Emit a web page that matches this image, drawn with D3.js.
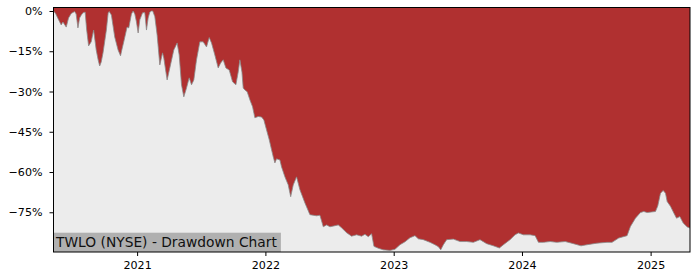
<!DOCTYPE html>
<html lang="en">
<head>
<meta charset="UTF-8">
<script src="https://cdn.jsdelivr.net/npm/d3@7"></script>
<title>TWLO Drawdown</title>
<style>
    body { margin: 0; background: #fff; }
    text { font-family: "DejaVu Sans", sans-serif; }
</style>
</head>
<body>
<script>
    // ---- data (decimal years, drawdown in %) ----
    const years = [
        2020.350, 2020.366, 2020.384, 2020.410, 2020.423, 2020.449, 2020.467, 2020.488, 2020.514, 2020.526,
        2020.540, 2020.553, 2020.566, 2020.579, 2020.596, 2020.608, 2020.623, 2020.643, 2020.662, 2020.682,
        2020.697, 2020.709, 2020.721, 2020.735, 2020.761, 2020.775, 2020.783, 2020.800, 2020.826, 2020.852,
        2020.871, 2020.881, 2020.896, 2020.922, 2020.935, 2020.956, 2020.969, 2020.982, 2020.995, 2021.008,
        2021.021, 2021.042, 2021.060, 2021.073, 2021.086, 2021.099, 2021.112, 2021.122, 2021.138, 2021.156,
        2021.177, 2021.198, 2021.208, 2021.234, 2021.255, 2021.286, 2021.312, 2021.328, 2021.346, 2021.364,
        2021.385, 2021.406, 2021.424, 2021.442, 2021.463, 2021.489, 2021.515, 2021.541, 2021.562, 2021.580,
        2021.606, 2021.632, 2021.651, 2021.671, 2021.692, 2021.718, 2021.744, 2021.770, 2021.788, 2021.801,
        2021.817, 2021.827, 2021.840, 2021.858, 2021.879, 2021.900, 2021.918, 2021.944, 2021.970, 2021.988,
        2022.009, 2022.030, 2022.048, 2022.061, 2022.074, 2022.087, 2022.113, 2022.126, 2022.152, 2022.178,
        2022.197, 2022.217, 2022.243, 2022.269, 2022.308, 2022.347, 2022.399, 2022.425, 2022.451, 2022.477,
        2022.503, 2022.542, 2022.568, 2022.594, 2022.633, 2022.672, 2022.711, 2022.750, 2022.776, 2022.802,
        2022.828, 2022.846, 2022.880, 2022.919, 2022.971, 2023.010, 2023.049, 2023.088, 2023.127, 2023.166,
        2023.192, 2023.231, 2023.283, 2023.322, 2023.348, 2023.367, 2023.387, 2023.413, 2023.465, 2023.517,
        2023.569, 2023.621, 2023.673, 2023.725, 2023.777, 2023.824, 2023.855, 2023.907, 2023.946, 2023.972,
        2024.011, 2024.063, 2024.102, 2024.128, 2024.167, 2024.219, 2024.271, 2024.336, 2024.401, 2024.459,
        2024.505, 2024.583, 2024.661, 2024.700, 2024.752, 2024.817, 2024.843, 2024.882, 2024.921, 2024.947,
        2024.973, 2025.038, 2025.056, 2025.077, 2025.098, 2025.116, 2025.129, 2025.155, 2025.181, 2025.202,
        2025.228, 2025.254, 2025.286, 2025.307
    ];
    const drawdown = [
        0, -0.9, -2.7, -5.2, -4.1, -6.0, -2.6, -0.9, -0.2, -1.1,
        -6.3, -2.6, -1.5, -0.7, -0.4, -7.1, -13.0, -11.5, -7.1, -14.5,
        -18.2, -20.5, -19.0, -15.6, -7.1, -0.7, -0.2, -1.5, -9.7, -14.5,
        -16.7, -14.5, -11.5, -6.0, -6.3, -1.1, 0, -1.1, -4.1, -8.2,
        -3.3, -0.7, -0.6, -7.1, -2.6, -0.4, 0, 0, -2.1, -8.9,
        -20.1, -15.6, -17.5, -25.7, -21.2, -14.5, -11.9, -16.4, -27.5, -32.0,
        -28.7, -24.9, -27.5, -25.7, -18.2, -11.5, -11.5, -13.4, -9.9, -11.9,
        -16.4, -21.2, -19.4, -18.2, -21.2, -22.0, -26.4, -27.5, -22.7, -18.2,
        -22.7, -28.7, -29.4, -30.1, -33.1, -35.7, -39.8, -39.3, -39.5, -40.6,
        -44.3, -48.0, -51.7, -54.3, -56.6, -55.1, -55.5, -58.1, -61.8, -64.8,
        -69.2, -64.8, -61.8, -66.6, -71.5, -75.9, -76.3, -76.1, -80.4, -79.7,
        -80.4, -80.0, -79.7, -80.8, -82.6, -83.9, -83.4, -83.9, -83.2, -84.1,
        -83.0, -87.7, -88.4, -89.0, -89.2, -88.8, -87.1, -86.0, -84.5, -83.7,
        -84.9, -85.2, -86.2, -87.1, -87.8, -89.0, -87.1, -85.2, -85.0, -85.9,
        -85.9, -86.2, -85.2, -86.7, -87.5, -88.3, -87.1, -85.2, -83.4, -82.7,
        -83.4, -83.4, -83.7, -86.2, -86.2, -85.9, -86.2, -85.9, -86.7, -87.5,
        -87.1, -86.5, -86.2, -86.2, -84.6, -83.7, -80.3, -77.2, -75.1, -74.7,
        -75.1, -74.7, -72.6, -67.9, -66.9, -67.9, -71.0, -72.8, -75.3, -77.2,
        -76.6, -79.0, -80.5, -80.9
    ];
    const yTicks = [0, -15, -30, -45, -60, -75];
    const xTickYears = [2021, 2022, 2023, 2024, 2025];
    const yDomain = [-89.8, 1.3];
    const title = "TWLO (NYSE) - Drawdown Chart";

    // decimal year -> Date
    function decYear(v) {
        const yr = Math.floor(v);
        const s = Date.UTC(yr, 0, 1), e = Date.UTC(yr + 1, 0, 1);
        return new Date(s + (v - yr) * (e - s));
    }

    const data = years.map((y, i) => ({ date: decYear(y), dd: drawdown[i] }));

    const width = 700, height = 280;
    const margin = { top: 7.5, right: 10, bottom: 28, left: 53.5 };

    const svg = d3.select("body").append("svg")
        .attr("width", width)
        .attr("height", height);

    const x = d3.scaleUtc()
        .domain(d3.extent(data, d => d.date))
        .range([margin.left, width - margin.right]);

    const y = d3.scaleLinear()
        .domain(yDomain)
        .range([height - margin.bottom, margin.top]);

    svg.append("clipPath").attr("id", "plot")
        .append("rect")
        .attr("x", margin.left).attr("y", margin.top)
        .attr("width", width - margin.left - margin.right)
        .attr("height", height - margin.top - margin.bottom);

    // light gray background
    svg.append("rect")
        .attr("x", margin.left).attr("y", margin.top)
        .attr("width", width - margin.left - margin.right)
        .attr("height", height - margin.top - margin.bottom)
        .attr("fill", "#ececec");

    const g = svg.append("g").attr("clip-path", "url(#plot)");

    // red area from the top down to the drawdown
    const area = d3.area()
        .x(d => x(d.date))
        .y0(margin.top)
        .y1(d => y(d.dd));

    g.append("path")
        .datum(data)
        .attr("d", area)
        .attr("fill", "#b03030");

    g.append("path")
        .datum(data)
        .attr("d", d3.line().x(d => x(d.date)).y(d => y(d.dd)))
        .attr("fill", "none")
        .attr("stroke", "#8a8a8a")
        .attr("stroke-width", 0.8);

    // axes
    const yAxis = d3.axisLeft(y)
        .tickValues(yTicks)
        .tickSize(4)
        .tickPadding(7)
        .tickFormat(d => (d < 0 ? "\u2212" + Math.abs(d) : d) + "%");

    svg.append("g")
        .attr("transform", `translate(${margin.left},0)`)
        .call(yAxis)
        .call(s => s.select(".domain").remove())
        .call(s => s.selectAll("text").attr("font-size", 11.1).attr("fill", "#000").attr("font-family", "DejaVu Sans"))
        .call(s => s.selectAll("line").attr("stroke", "#000"));

    const xAxis = d3.axisBottom(x)
        .tickValues(xTickYears.map(v => decYear(v)))
        .tickSize(4)
        .tickPadding(5)
        .tickFormat(d3.utcFormat("%Y"));

    svg.append("g")
        .attr("transform", `translate(0,${height - margin.bottom})`)
        .call(xAxis)
        .call(s => s.select(".domain").remove())
        .call(s => s.selectAll("text").attr("font-size", 11.1).attr("fill", "#000").attr("font-family", "DejaVu Sans"))
        .call(s => s.selectAll("line").attr("stroke", "#000"));

    // label box bottom-left
    const lbl = svg.append("g");
    const lblText = lbl.append("text")
        .attr("x", margin.left + 2.5)
        .attr("y", height - margin.bottom - 4.7)
        .attr("font-size", 13.8)
        .attr("fill", "#111")
        .text(title);
    const bb = lblText.node().getBBox();
    lbl.insert("rect", "text")
        .attr("x", margin.left)
        .attr("y", height - margin.bottom - 19.3)
        .attr("width", bb.width + 5)
        .attr("height", 19.3)
        .attr("fill", "#b0b0b0");

    // frame
    svg.append("rect")
        .attr("x", margin.left).attr("y", margin.top)
        .attr("width", width - margin.left - margin.right)
        .attr("height", height - margin.top - margin.bottom)
        .attr("fill", "none")
        .attr("stroke", "#000")
        .attr("stroke-width", 1);
</script>
</body>
</html>
